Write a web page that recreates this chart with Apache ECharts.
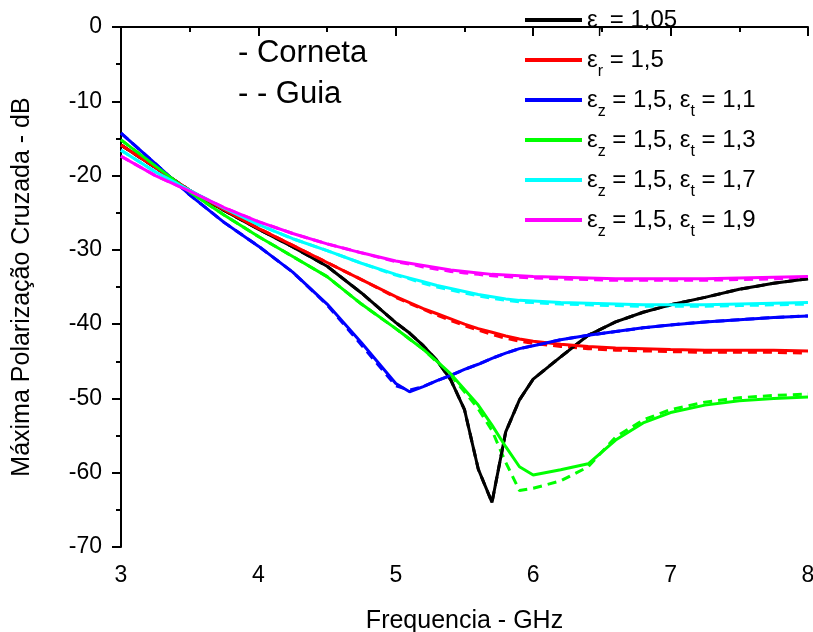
<!DOCTYPE html>
<html>
<head>
    <meta charset="utf-8">
    <title>Polarização cruzada</title>
    <script src="https://cdn.jsdelivr.net/npm/echarts@6/dist/echarts.min.js"></script>
    <style>
        body { margin: 0; background: #fff; }
        #main { width: 813px; height: 632px; }
    </style>
</head>
<body>
<div id="main"></div>
<script>
    // frequencias (GHz)
    var freq = [3, 3.25, 3.5, 3.75, 4, 4.25, 4.5, 4.75, 5, 5.1, 5.2, 5.3, 5.4, 5.5, 5.6, 5.7, 5.8, 5.9, 6, 6.2, 6.4, 6.6, 6.8, 7, 7.25, 7.5, 7.75, 8];

    // Corneta (linha cheia)
    var er105 = [-15.9, -18.9, -22.0, -24.7, -27.2, -29.6, -32.2, -35.8, -39.8, -41.2, -42.9, -44.9, -47.5, -51.5, -59.5, -64.0, -54.5, -50.2, -47.4, -44.4, -41.5, -39.7, -38.4, -37.4, -36.4, -35.3, -34.5, -33.9];
    var er15 = [-15.9, -18.9, -22.0, -24.6, -27.1, -29.4, -31.7, -34.0, -36.3, -37.1, -37.9, -38.6, -39.3, -40.0, -40.6, -41.1, -41.6, -42.0, -42.3, -42.7, -43.0, -43.2, -43.3, -43.4, -43.5, -43.5, -43.5, -43.6];
    var et11 = [-14.3, -18.4, -22.6, -26.3, -29.5, -33.0, -37.3, -42.5, -48.0, -49.1, -48.4, -47.6, -46.9, -46.1, -45.4, -44.6, -43.9, -43.3, -42.9, -42.1, -41.5, -41.0, -40.5, -40.1, -39.7, -39.4, -39.1, -38.9];
    var et13 = [-15.2, -18.7, -22.2, -25.3, -28.2, -30.9, -33.6, -37.3, -40.6, -42.0, -43.4, -45.0, -46.7, -48.8, -50.9, -53.6, -56.5, -59.2, -60.3, -59.6, -58.8, -55.6, -53.3, -51.9, -50.9, -50.3, -50.0, -49.8];
    var et17 = [-16.6, -19.5, -22.0, -24.4, -26.6, -28.5, -30.1, -31.8, -33.3, -33.8, -34.3, -34.8, -35.2, -35.6, -36.0, -36.3, -36.6, -36.8, -36.9, -37.1, -37.2, -37.3, -37.4, -37.4, -37.4, -37.3, -37.2, -37.1];
    var et19 = [-17.4, -20.0, -22.1, -24.3, -26.2, -27.8, -29.2, -30.4, -31.5, -31.8, -32.1, -32.4, -32.7, -32.9, -33.1, -33.3, -33.4, -33.5, -33.6, -33.7, -33.8, -33.9, -33.9, -33.9, -33.9, -33.8, -33.7, -33.6];

    // Guia (tracejado)
    var er105G = [-15.9, -18.9, -22.0, -24.7, -27.2, -29.6, -32.2, -35.8, -39.8, -41.2, -42.9, -44.9, -47.5, -51.5, -59.5, -64.0, -54.5, -50.2, -47.4, -44.4, -41.5, -39.7, -38.4, -37.4, -36.4, -35.3, -34.5, -33.9];
    var er15G = [-15.9, -18.9, -22.0, -24.6, -27.1, -29.4, -31.7, -34.0, -36.4, -37.2, -38.0, -38.8, -39.5, -40.2, -40.8, -41.4, -41.9, -42.3, -42.6, -43.0, -43.3, -43.5, -43.6, -43.7, -43.8, -43.8, -43.8, -43.9];
    var et11G = [-14.3, -18.4, -22.6, -26.3, -29.5, -33.0, -37.4, -42.8, -48.3, -48.9, -48.4, -47.6, -46.9, -46.1, -45.4, -44.6, -43.9, -43.3, -42.9, -42.1, -41.5, -41.0, -40.5, -40.1, -39.7, -39.4, -39.1, -38.9];
    var et13G = [-15.2, -18.7, -22.2, -25.3, -28.2, -30.9, -33.6, -37.3, -40.6, -42.0, -43.4, -45.1, -46.9, -49.1, -51.4, -54.3, -58.6, -62.4, -62.1, -61.1, -59.2, -55.2, -52.9, -51.5, -50.5, -49.9, -49.6, -49.4];
    var et17G = [-16.6, -19.5, -22.0, -24.4, -26.6, -28.5, -30.1, -31.8, -33.4, -33.9, -34.5, -35.0, -35.4, -35.8, -36.2, -36.5, -36.8, -37.0, -37.1, -37.3, -37.4, -37.5, -37.6, -37.6, -37.6, -37.5, -37.4, -37.3];
    var et19G = [-17.4, -20.0, -22.1, -24.3, -26.2, -27.8, -29.2, -30.4, -31.6, -31.9, -32.3, -32.6, -32.9, -33.1, -33.3, -33.5, -33.6, -33.7, -33.8, -33.9, -34.0, -34.1, -34.1, -34.1, -34.1, -34.0, -33.9, -33.8];

    var names = ['er105', 'er15', 'et11', 'et13', 'et17', 'et19'];
    var cores = ['#000000', '#ff0000', '#0000ff', '#00ff00', '#00ffff', '#ff00ff'];
    var legendas = [
        '{e|ε}{s|r}{e| = 1,05}',
        '{e|ε}{s|r}{e| = 1,5}',
        '{e|ε}{s|z}{e| = 1,5, ε}{s|t}{e| = 1,1}',
        '{e|ε}{s|z}{e| = 1,5, ε}{s|t}{e| = 1,3}',
        '{e|ε}{s|z}{e| = 1,5, ε}{s|t}{e| = 1,7}',
        '{e|ε}{s|z}{e| = 1,5, ε}{s|t}{e| = 1,9}'
    ];
    var cheias = [er105, er15, et11, et13, et17, et19];
    var guias = [er105G, er15G, et11G, et13G, et17G, et19G];

    var fonte = 'Liberation Sans, Arial, sans-serif';

    function pares(ys) {
        return freq.map(function (x, i) { return [x, ys[i]]; });
    }

    var series = [];
    // tracejadas por baixo
    for (var i = 0; i < guias.length; i++) {
        series.push({
            name: names[i] + '_guia',
            type: 'line',
            data: pares(guias[i]),
            showSymbol: false,
            lineStyle: { color: cores[i], width: 3, type: [9, 6] },
            itemStyle: { color: cores[i] },
            z: 2
        });
    }
    for (var j = 0; j < cheias.length; j++) {
        series.push({
            name: names[j],
            type: 'line',
            data: pares(cheias[j]),
            showSymbol: false,
            lineStyle: { color: cores[j], width: 3 },
            itemStyle: { color: cores[j] },
            z: 3
        });
    }

    var myChart = echarts.init(document.getElementById('main'));
    var option = {
        animation: false,
        backgroundColor: '#fff',
        grid: { left: 121, right: 5, top: 27, bottom: 85, containLabel: false, outerBoundsMode: 'none' },
        legend: {
            orient: 'vertical',
            left: 525,
            top: 0,
            padding: 0,
            data: names,
            icon: 'rect',
            itemWidth: 57,
            itemHeight: 4,
            itemGap: 0,
            formatter: function (name) { return legendas[names.indexOf(name)]; },
            textStyle: {
                color: '#000',
                fontFamily: fonte,
                fontSize: 24,
                lineHeight: 40,
                rich: {
                    e: { fontSize: 24, fontFamily: fonte, color: '#000' },
                    s: { fontSize: 16, fontFamily: fonte, color: '#000', verticalAlign: 'bottom' }
                }
            }
        },
        xAxis: {
            type: 'value',
            min: 3,
            max: 8,
            interval: 1,
            name: 'Frequencia - GHz',
            nameLocation: 'middle',
            nameGap: 62,
            nameTextStyle: { fontSize: 25, fontFamily: fonte, color: '#000' },
            axisLine: { show: true, lineStyle: { color: '#000', width: 2 } },
            axisTick: { show: true, inside: false, length: 9, lineStyle: { color: '#000', width: 2 } },
            minorTick: { show: true, splitNumber: 2, length: 5, lineStyle: { color: '#000', width: 2 } },
            axisLabel: { fontSize: 23, fontFamily: fonte, color: '#000', margin: 17 },
            splitLine: { show: false }
        },
        yAxis: {
            type: 'value',
            min: -70,
            max: 0,
            interval: 10,
            name: 'Máxima Polarização Cruzada - dB',
            nameLocation: 'middle',
            nameGap: 86,
            nameTextStyle: { fontSize: 25, fontFamily: fonte, color: '#000' },
            axisLine: { show: true, lineStyle: { color: '#000', width: 2 } },
            axisTick: { show: true, inside: false, length: 9, lineStyle: { color: '#000', width: 2 } },
            minorTick: { show: true, splitNumber: 2, length: 5, lineStyle: { color: '#000', width: 2 } },
            axisLabel: { fontSize: 23, fontFamily: fonte, color: '#000', margin: 19 },
            splitLine: { show: false }
        },
        graphic: [
            { type: 'text', left: 238, top: 38, style: { text: '- Corneta', font: '31px ' + fonte, fill: '#000' } },
            { type: 'text', left: 238, top: 79, style: { text: '- - Guia', font: '31px ' + fonte, fill: '#000' } }
        ],
        series: series
    };
    myChart.setOption(option);
</script>
</body>
</html>
